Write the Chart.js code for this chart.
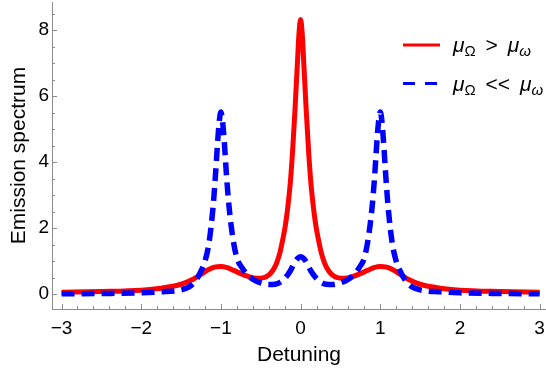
<!DOCTYPE html>
<html>
<head>
<meta charset="utf-8">
<script src="https://cdn.jsdelivr.net/npm/chart.js@4.4.0/dist/chart.umd.min.js"></script>
<style>
    html, body { margin: 0; padding: 0; background: #fff; }
    #wrap { width: 546px; height: 377px; }
</style>
</head>
<body>
<div id="wrap"><canvas id="spectrumChart" width="546" height="377"></canvas></div>
<script>
// values
const redX = [-3, -2.5, -2, -1.75, -1.5, -1.35, -1.25, -1.16, -1.08, -1, -0.92, -0.84, -0.75, -0.65, -0.55, -0.46, -0.39, -0.34, -0.3, -0.26, -0.22, -0.19, -0.16, -0.13, -0.1, -0.07, -0.04, -0.02,
    0, 0.02, 0.04, 0.07, 0.1, 0.13, 0.16, 0.19, 0.22, 0.26, 0.3, 0.34, 0.39, 0.46, 0.55, 0.65, 0.75, 0.84, 0.92, 1, 1.08, 1.16, 1.25, 1.35, 1.5, 1.75, 2, 2.5, 3];
const redY = [0.06, 0.08, 0.12, 0.18, 0.3, 0.45, 0.6, 0.74, 0.82, 0.84, 0.8, 0.72, 0.62, 0.53, 0.48, 0.5, 0.6, 0.75, 0.95, 1.25, 1.7, 2.1, 2.65, 3.35, 4.35, 5.6, 7.0, 7.9,
    8.32, 7.9, 7.0, 5.6, 4.35, 3.35, 2.65, 2.1, 1.7, 1.25, 0.95, 0.75, 0.6, 0.5, 0.48, 0.53, 0.62, 0.72, 0.8, 0.84, 0.82, 0.74, 0.6, 0.45, 0.3, 0.18, 0.12, 0.08, 0.06];

const blueX = [-3, -2.5, -2, -1.75, -1.5, -1.4, -1.32, -1.26, -1.2, -1.15, -1.1, -1.07, -1.04, -1.02, -1, -0.98, -0.96, -0.93, -0.9, -0.85, -0.8, -0.74, -0.68, -0.6, -0.5, -0.4, -0.32, -0.25, -0.19, -0.13, -0.07, -0.03,
    0, 0.03, 0.07, 0.13, 0.19, 0.25, 0.32, 0.4, 0.5, 0.6, 0.68, 0.74, 0.8, 0.85, 0.9, 0.93, 0.96, 0.98, 1, 1.02, 1.04, 1.07, 1.1, 1.15, 1.2, 1.26, 1.32, 1.4, 1.5, 1.75, 2, 2.5, 3];
const blueY = [0.01, 0.02, 0.04, 0.07, 0.13, 0.22, 0.4, 0.65, 1.0, 1.55, 2.6, 3.55, 4.65, 5.25, 5.52, 5.25, 4.7, 3.6, 2.7, 1.7, 1.1, 0.82, 0.62, 0.45, 0.34, 0.29, 0.3, 0.37, 0.5, 0.7, 0.98, 1.1,
    1.13, 1.1, 0.98, 0.7, 0.5, 0.37, 0.3, 0.29, 0.34, 0.45, 0.62, 0.82, 1.1, 1.7, 2.7, 3.6, 4.7, 5.25, 5.52, 5.25, 4.65, 3.55, 2.6, 1.55, 1.0, 0.65, 0.4, 0.22, 0.13, 0.07, 0.04, 0.02, 0.01];

const xTickValues = [-3, -2, -1, 0, 1, 2, 3];
const yTickValues = [0, 2, 4, 6, 8];

// legend text pieces: [text, kind, extra gap after]  (i = italic, s = subscript)
const redLabel = [['μ', 'i', 0], ['Ω', 's', 4], [' > ', '', 4], ['μ', 'i', 0], ['ω', 'si', 0]];
const blueLabel = [['μ', 'i', 0], ['Ω', 's', 4], [' << ', '', 4], ['μ', 'i', 0], ['ω', 'si', 0]];

const FONT = '"Liberation Sans", Arial, sans-serif';
const AXIS_GRAY = '#8c8c8c';

function toPoints(xs, ys) {
    return xs.map((x, i) => ({ x: x, y: ys[i] }));
}

function fmtTick(value) {
    return value < 0 ? '\u2212' + Math.abs(value) : String(value);
}

function drawRichLabel(ctx, parts, x, y) {
    ctx.textBaseline = 'alphabetic';
    ctx.textAlign = 'left';
    ctx.fillStyle = '#000';
    parts.forEach(([text, kind, gap]) => {
        const sub = kind.includes('s');
        const italic = kind.includes('i');
        ctx.font = (italic ? 'italic ' : '') + (sub ? 15 : 21) + 'px ' + FONT;
        ctx.fillText(text, x, sub ? y + 4 : y);
        x += ctx.measureText(text).width + gap;
    });
}

// minor/major tick marks (inward) + legend
const axisDecor = {
    id: 'axisDecor',
    afterDraw(chart) {
        const ctx = chart.ctx;
        const xs = chart.scales.x;
        const ys = chart.scales.y;
        const area = chart.chartArea;

        ctx.save();
        ctx.strokeStyle = AXIS_GRAY;
        ctx.lineWidth = 1;
        ctx.beginPath();
        for (let i = -15; i <= 15; i++) {
            const px = Math.round(xs.getPixelForValue(i / 5)) + 0.5;
            const len = i % 5 === 0 ? 5 : 3;
            ctx.moveTo(px, area.bottom);
            ctx.lineTo(px, area.bottom - len);
        }
        for (let i = 0; i <= 17; i++) {
            const py = Math.round(ys.getPixelForValue(i / 2)) + 0.5;
            const len = i % 4 === 0 ? 5 : 3;
            ctx.moveTo(area.left, py);
            ctx.lineTo(area.left + len, py);
        }
        ctx.stroke();

        // legend
        ctx.lineWidth = 3;
        ctx.strokeStyle = '#ff0000';
        ctx.beginPath();
        ctx.moveTo(403, 45);
        ctx.lineTo(440, 45);
        ctx.stroke();
        ctx.strokeStyle = '#0000ff';
        ctx.setLineDash([12, 10]);
        ctx.beginPath();
        ctx.moveTo(403, 83.5);
        ctx.lineTo(440, 83.5);
        ctx.stroke();
        ctx.setLineDash([]);

        drawRichLabel(ctx, redLabel, 453, 52);
        drawRichLabel(ctx, blueLabel, 453, 91);
        ctx.restore();
    }
};

const ctx = document.getElementById('spectrumChart').getContext('2d');

new Chart(ctx, {
    type: 'line',
    data: {
        datasets: [
            {
                label: 'mu_Omega << mu_omega',
                data: toPoints(blueX, blueY),
                borderColor: '#0000ff',
                borderWidth: 5.5,
                borderDash: [13, 7],
                borderCapStyle: 'butt',
                pointRadius: 0,
                fill: false,
                cubicInterpolationMode: 'monotone'
            },
            {
                label: 'mu_Omega > mu_omega',
                data: toPoints(redX, redY),
                borderColor: '#ff0000',
                borderWidth: 5,
                pointRadius: 0,
                fill: false,
                cubicInterpolationMode: 'monotone'
            }
        ]
    },
    options: {
        responsive: false,
        animation: false,
        devicePixelRatio: 1,
        layout: { padding: { top: 2, right: 0, left: 0, bottom: 0 } },
        plugins: {
            legend: { display: false },
            tooltip: { enabled: false }
        },
        scales: {
            x: {
                type: 'linear',
                min: -3.12,
                max: 3.08,
                afterBuildTicks: scale => { scale.ticks = xTickValues.map(v => ({ value: v })); },
                afterFit: scale => {
                    scale.height = 68;
                    scale.paddingLeft = 0;
                    scale.paddingRight = 0;
                },
                ticks: {
                    autoSkip: false,
                    maxRotation: 0,
                    padding: 8,
                    color: '#000',
                    font: { family: FONT, size: 19 },
                    callback: fmtTick
                },
                grid: { display: true, drawOnChartArea: false, drawTicks: false },
                border: { display: true, color: AXIS_GRAY, width: 1 },
                title: {
                    display: true,
                    text: 'Detuning',
                    color: '#000',
                    font: { family: FONT, size: 21 },
                    padding: { top: 0, bottom: 9 }
                }
            },
            y: {
                type: 'linear',
                min: -0.45,
                max: 8.85,
                afterBuildTicks: scale => { scale.ticks = yTickValues.map(v => ({ value: v })); },
                afterFit: scale => {
                    scale.width = 52;
                    scale.paddingTop = 0;
                    scale.paddingBottom = 0;
                },
                ticks: {
                    autoSkip: false,
                    padding: 3,
                    color: '#000',
                    font: { family: FONT, size: 19 },
                    callback: fmtTick
                },
                grid: { display: true, drawOnChartArea: false, drawTicks: false },
                border: { display: true, color: AXIS_GRAY, width: 1 },
                title: {
                    display: true,
                    text: 'Emission spectrum',
                    color: '#000',
                    font: { family: FONT, size: 21 },
                    padding: { top: 7, bottom: 0 }
                }
            }
        }
    },
    plugins: [axisDecor]
});
</script>
</body>
</html>
